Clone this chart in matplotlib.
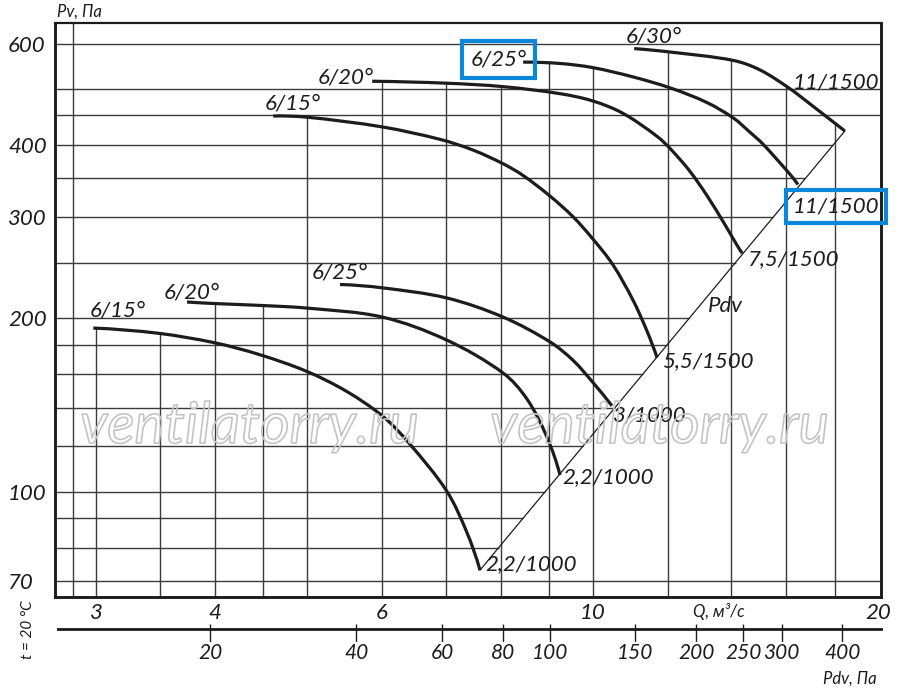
import numpy as np
import matplotlib
matplotlib.use("Agg")
import matplotlib.pyplot as plt
from matplotlib import patheffects as pe
from matplotlib.path import Path
from matplotlib.patches import PathPatch
from matplotlib.ticker import FixedLocator, NullLocator, FixedFormatter

# ---------------- data ----------------
# Q, m3/s  and  Pv, Pa for each fan curve
qA = [2.98, 3.49, 4.0, 4.46, 5.0, 5.51, 6.02, 6.42, 7.02, 7.37, 7.61]
pA = [192.4, 188.4, 181.4, 173.0, 161.8, 149.3, 135.0, 121.0, 100.3, 85.1, 73.1]
qB = [3.74, 4.0, 4.5, 5.0, 6.0, 7.02, 8.05, 8.53, 8.95, 9.24]
pB = [213.5, 212.2, 210.5, 208.4, 201.1, 183.4, 160.7, 144.8, 124.5, 106.9]
qC = [5.42, 6.0, 7.02, 8.05, 9.02, 9.54, 10.0, 10.48]
pC = [229, 226, 217, 201, 182, 169, 155, 141]
qD = [4.61, 5.0, 6.0, 6.91, 7.48, 8.05, 8.45, 9.02, 9.54, 10.0, 10.5, 11.03, 11.41, 11.69]
pD = [449, 447, 430, 409, 392, 371, 354, 326, 300, 275, 248, 215, 190, 171]
qE = [5.86, 7.02, 8.05, 9.24, 10.0, 10.76, 11.69, 12.09, 12.66, 13.19, 13.78, 14.19, 14.37]
pE = [516, 512, 505, 491, 477, 454, 414, 393, 360, 327, 291, 268, 259.5]
qF = [8.45, 9.24, 10.0, 11.03, 12.09, 13.19, 14.08, 14.64, 15.11, 16.13, 16.45]
pF = [557, 554, 545, 525, 502, 474, 445, 421, 401.5, 356, 341.5]
qG = [11.06, 12.06, 14.05, 15.0, 16.13, 17.06, 18.43]
pG = [588, 580, 561, 540, 501, 467, 423]

start_labels = ["6/15°", "6/20°", "6/25°", "6/15°", "6/20°", "6/25°", "6/30°"]
end_labels = ["2,2/1000", "2,2/1000", "3/1000", "5,5/1500", "7,5/1500", "11/1500", "11/1500"]

# Pdv line (dynamic pressure line) end points
pdv_line_q = [7.61, 18.43]
pdv_line_p = [73.1, 423]

# grid values
q_grid = [2.84, 3, 3.5, 4, 4.5, 5, 6, 7, 8, 9, 10, 12, 14, 16, 18]
p_grid = [70, 80, 90, 100, 120, 140, 160, 180, 200, 250, 300, 350, 400, 450, 500, 600]

# tick labels
q_ticks = [3, 4, 6, 10, 20]
q_tick_labels = ["3", "4", "6", "10", "20"]
p_ticks = [70, 100, 200, 300, 400, 600]
p_tick_labels = ["70", "100", "200", "300", "400", "600"]
pdv_ticks = [20, 40, 60, 80, 100, 150, 200, 250, 300, 400]
pdv_tick_labels = ["20", "40", "60", "80", "100", "150", "200", "250", "300", "400"]

# ---------------- styling ----------------
plt.rcParams['font.family'] = ['Lato', 'DejaVu Sans']
plt.rcParams['font.style'] = 'italic'
INK = '#1c1c1c'
GRID = '#3a3a3a'
BLUE = '#0b87d9'
W, H = 900, 694
PT = 72.0 / 100.0  # points per pixel
ASPECT = 1.65      # px per decade in x relative to y on this chart

fig = plt.figure(figsize=(W / 100, H / 100), dpi=100)
fig.patch.set_facecolor('white')


def fx(px):
    return px / W


def fy(py):
    return 1 - py / H


def _unit(v):
    n = np.hypot(v[0], v[1])
    return v / n if n > 0 else v


def smooth_path(q, p):
    """Smooth Bezier path through the read points (Hermite-style, log-log space)."""
    pts = np.column_stack([np.log10(np.asarray(q, float)) * ASPECT,
                           np.log10(np.asarray(p, float))])
    n = len(pts)
    m = np.zeros_like(pts)
    for i in range(1, n - 1):
        m[i] = _unit(pts[i + 1] - pts[i - 1])
    if n > 2:
        m[0] = _unit(2 * _unit(pts[1] - pts[0]) - m[1])
        m[-1] = _unit(2 * _unit(pts[-1] - pts[-2]) - m[-2])
    else:
        m[0] = m[-1] = _unit(pts[1] - pts[0])
    verts = [pts[0]]
    codes = [Path.MOVETO]
    for i in range(n - 1):
        L = np.hypot(*(pts[i + 1] - pts[i]))
        verts += [pts[i] + m[i] * L / 3.0, pts[i + 1] - m[i + 1] * L / 3.0, pts[i + 1]]
        codes += [Path.CURVE4] * 3
    v = np.array(verts)
    v[:, 0] /= ASPECT
    return Path(10 ** v, codes)


ax = fig.add_axes([fx(55), fy(597), (881 - 55) / W, (597 - 23) / H])
ax.set_xscale('log')
ax.set_yscale('log')
xmin, xmax = 2.716, 20.12
ymin, ymax = 65.66, 651.3
ax.set_xlim(xmin, xmax)
ax.set_ylim(ymin, ymax)

curves = [(qA, pA), (qB, pB), (qC, pC), (qD, pD), (qE, pE), (qF, pF), (qG, pG)]

# vertical grid lines: from bottom up to the upper envelope of the curves
for q in q_grid:
    tops = []
    for cq, cp in curves:
        if cq[0] <= q <= cq[-1]:
            tops.append(10 ** np.interp(np.log10(q), np.log10(cq), np.log10(cp)))
    top = max(tops) if tops else ymax
    ax.vlines(q, ymin, top, color=GRID, lw=1.0, zorder=1)

# horizontal grid lines: from left edge to the Pdv line
lq = np.log10(pdv_line_q)
lp = np.log10(pdv_line_p)
for p in p_grid:
    if pdv_line_p[0] <= p <= pdv_line_p[1]:
        end = 10 ** np.interp(np.log10(p), lp, lq)
    else:
        end = xmax
    ax.hlines(p, xmin, end, color=GRID, lw=1.0, zorder=1)

# Pdv line
ax.plot(pdv_line_q, pdv_line_p, color=INK, lw=0.9, zorder=2)

# curves
for cq, cp in curves:
    ax.add_patch(PathPatch(smooth_path(cq, cp), fill=False, edgecolor=INK,
                           lw=2.3, capstyle='butt', joinstyle='round', zorder=3))

# labels at curve starts (offsets in px: dx, dy upward)
start_off = [(-4, 12), (-23, 4), (-28, 6), (-9, 7), (-55, -2), (-53, -3), (-9, 6.5)]
for i, (cq, cp) in enumerate(curves):
    dx, dy = start_off[i]
    kw = {}
    if i == 5:
        kw['bbox'] = dict(boxstyle='square,pad=0.38', fc='none', ec=BLUE, lw=3.0)
    ax.annotate(start_labels[i], (cq[0], cp[0]), xytext=(dx * PT, dy * PT),
                textcoords='offset points', ha='left', va='baseline',
                fontsize=16, color=INK, zorder=4, annotation_clip=False, **kw)

end_off = [(5, 0), (2, -8), (1, -16), (5, -10), (6, -12), (-5, -28), (-52, 42)]
for i, (cq, cp) in enumerate(curves):
    dx, dy = end_off[i]
    kw = {}
    if i == 5:
        kw['bbox'] = dict(boxstyle='square,pad=0.3', fc='none', ec=BLUE, lw=3.0)
    ax.annotate(end_labels[i], (cq[-1], cp[-1]), xytext=(dx * PT, dy * PT),
                textcoords='offset points', ha='left', va='baseline',
                fontsize=16, color=INK, zorder=4, annotation_clip=False, **kw)

ax.text(13.22, 205, "Pdv", fontsize=16, color=INK, ha='left', va='baseline', zorder=4)

# ticks
ax.xaxis.set_major_locator(FixedLocator(q_ticks))
ax.xaxis.set_major_formatter(FixedFormatter(q_tick_labels))
ax.xaxis.set_minor_locator(NullLocator())
ax.yaxis.set_major_locator(FixedLocator(p_ticks))
ax.yaxis.set_major_formatter(FixedFormatter(p_tick_labels))
ax.yaxis.set_minor_locator(NullLocator())
ax.tick_params(axis='both', length=0, labelsize=16, colors=INK)
ax.tick_params(axis='x', pad=4)
ax.tick_params(axis='y', pad=47 * PT)
for lab in ax.get_yticklabels():
    lab.set_ha('left')

for s in ['left', 'bottom', 'right']:
    ax.spines[s].set_linewidth(2.1)
    ax.spines[s].set_color(INK)
ax.spines['top'].set_linewidth(1.6)
ax.spines['top'].set_color(INK)

# Pdv scale below
ax2 = fig.add_axes([fx(57), fy(642), (883 - 57) / W, 18 / H])
ax2.set_xscale('log')
ax2.set_xlim(9.68, 484.9)
ax2.set_ylim(0, 18)
ax2.patch.set_visible(False)
for s in ax2.spines.values():
    s.set_visible(False)
ax2.axhline(13, color=INK, lw=2.0)
ax2.vlines(pdv_ticks, 0, 18, color=INK, lw=1.0)
ax2.xaxis.set_major_locator(FixedLocator(pdv_ticks))
ax2.xaxis.set_major_formatter(FixedFormatter(pdv_tick_labels))
ax2.xaxis.set_minor_locator(NullLocator())
ax2.set_yticks([])
ax2.tick_params(axis='x', length=0, pad=1, labelsize=15, colors=INK)

# axis titles
fig.text(fx(57), fy(12), "Pv, Па", fontsize=12, ha='left', va='center', color=INK)
fig.text(fx(719), fy(612), "Q, м³/с", fontsize=12, ha='center', va='center', color=INK)
fig.text(fx(877), fy(679), "Pdv, Па", fontsize=12, ha='right', va='center', color=INK)
fig.text(fx(28), fy(630), "t = 20 °C", fontsize=11, rotation=90, ha='center', va='center', color=INK)

# watermark
for xw in (80, 490):
    fig.text(fx(xw), fy(443), "ventilatorry.ru", fontsize=41, fontweight='normal',
             ha='left', va='baseline', color=(1, 1, 1, 0), zorder=0.5,
             path_effects=[pe.withStroke(linewidth=1.2, foreground='#c4c4c4')])

fig.savefig("out.png", dpi=100, facecolor='white')
